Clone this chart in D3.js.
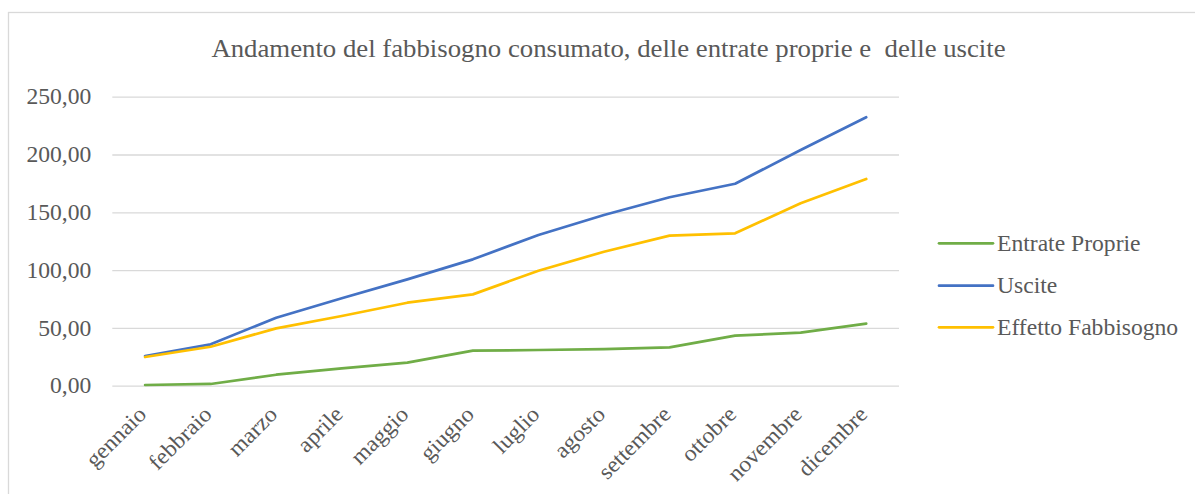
<!DOCTYPE html>
<html>
<head>
<meta charset="utf-8">
<script src="https://cdn.jsdelivr.net/npm/d3@7"></script>
<style>
  body { margin: 0; background: #fff; }
  svg text { font-family: "Liberation Serif", "Times New Roman", serif; fill: #595959; }
</style>
</head>
<body>
<svg id="chart"></svg>
<script>
// Chart size (matches the window)
const width = 1195;
const height = 494;

// Data
const months = ["gennaio", "febbraio", "marzo", "aprile", "maggio", "giugno",
  "luglio", "agosto", "settembre", "ottobre", "novembre", "dicembre"];
const entrateProprie = [0.6, 1.5, 9.5, 15.0, 19.9, 30.3, 30.9, 31.7, 33.2, 43.3, 45.9, 53.7];
const uscite = [25.7, 35.8, 58.8, 75.6, 92.0, 109.3, 130.4, 147.7, 163.0, 174.7, 203.9, 232.2];
const effettoFabbisogno = [24.8, 33.7, 49.6, 60.3, 71.8, 79.0, 99.5, 115.9, 129.8, 131.8, 157.8, 178.8];
const yTicks = [0, 50, 100, 150, 200, 250];

const series = [
  { name: "Entrate Proprie", values: entrateProprie, color: "#70ad47" },
  { name: "Uscite", values: uscite, color: "#4472c4" },
  { name: "Effetto Fabbisogno", values: effettoFabbisogno, color: "#ffc000" }
];

// Plot area
const plot = { left: 112.3, right: 899, top: 96.7, bottom: 385.7 };

// text in the original is slightly wider than plain Times
const stretch = 1.05;

const svg = d3.select("#chart")
  .attr("width", width)
  .attr("height", height);

// Outer chart border (right and bottom edges run off the picture)
svg.append("rect")
  .attr("x", 8.5)
  .attr("y", 12.5)
  .attr("width", width + 10)
  .attr("height", height + 10)
  .attr("fill", "none")
  .attr("stroke", "#d9d9d9")
  .attr("stroke-width", 1.3);

// Title
svg.append("text")
  .attr("transform", `translate(608.5,57) scale(${stretch},1)`)
  .attr("text-anchor", "middle")
  .style("font-size", "25.5px")
  .text("Andamento del fabbisogno consumato, delle entrate proprie e \u00a0delle uscite");

// Scales
const x = d3.scalePoint()
  .domain(months)
  .range([plot.left, plot.right])
  .padding(0.5);

const y = d3.scaleLinear()
  .domain([0, 250])
  .range([plot.bottom, plot.top]);

// Italian number format: 250,00
const itLocale = d3.formatLocale({ decimal: ",", thousands: ".", grouping: [3], currency: ["", " €"] });
const fmt = itLocale.format(".2f");

// Y axis with gridlines
const yAxis = svg.append("g")
  .attr("transform", `translate(${plot.left},0)`)
  .call(d3.axisLeft(y)
    .tickValues(yTicks)
    .tickSize(-(plot.right - plot.left))
    .tickPadding(21)
    .tickFormat(fmt));

yAxis.select(".domain").remove();
yAxis.selectAll(".tick line")
  .attr("stroke", "#d9d9d9")
  .attr("stroke-width", 1.3);
yAxis.selectAll(".tick text")
  .style("font-size", "22.5px")
  .attr("fill", "#595959")
  .attr("x", null)
  .attr("transform", `translate(-21,0) scale(${stretch},1)`);

// X axis labels, rotated
const xAxis = svg.append("g")
  .attr("transform", `translate(0,${plot.bottom})`)
  .call(d3.axisBottom(x).tickSize(0).tickPadding(0));

xAxis.select(".domain").remove();
xAxis.selectAll(".tick text")
  .style("font-size", "22.5px")
  .attr("fill", "#595959")
  .attr("text-anchor", "end")
  .attr("dy", 0)
  .attr("y", 0)
  .attr("transform", `translate(2,30) rotate(-45) scale(${stretch},1)`);

// Lines
const line = d3.line()
  .x((d, i) => x(months[i]))
  .y(d => y(d));

svg.selectAll(".series")
  .data(series)
  .enter()
  .append("path")
  .attr("class", "series")
  .attr("d", d => line(d.values))
  .attr("fill", "none")
  .attr("stroke", d => d.color)
  .attr("stroke-width", 2.7)
  .attr("stroke-linecap", "round")
  .attr("stroke-linejoin", "round");

// Legend
const legendRows = [243.3, 285.7, 327.3];
const legend = svg.selectAll(".legend-item")
  .data(series)
  .enter()
  .append("g")
  .attr("class", "legend-item")
  .attr("transform", (d, i) => `translate(939,${legendRows[i]})`);

legend.append("line")
  .attr("x1", 0)
  .attr("x2", 54)
  .attr("stroke", d => d.color)
  .attr("stroke-width", 2.7)
  .attr("stroke-linecap", "round");

legend.append("text")
  .attr("transform", `translate(58,0) scale(${stretch},1)`)
  .attr("dy", "0.33em")
  .style("font-size", "22.5px")
  .text(d => d.name);
</script>
</body>
</html>
